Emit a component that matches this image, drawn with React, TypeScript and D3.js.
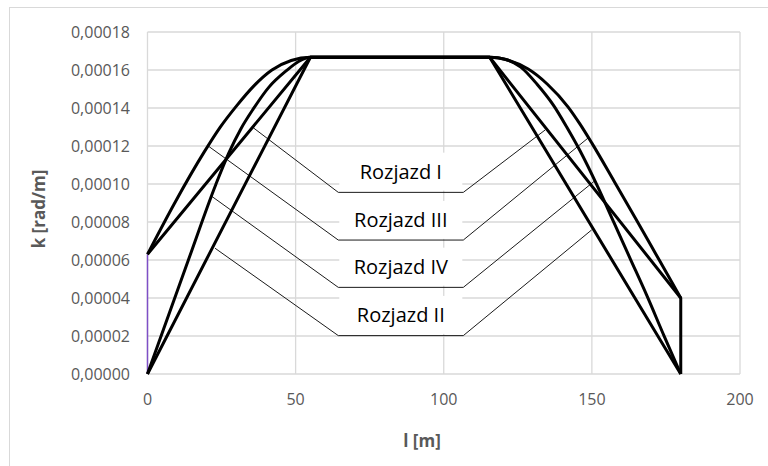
import React, { useRef, useEffect } from 'react';
import * as d3 from 'd3';

// l [m] / k [rad/m]
const xTicks = [0, 50, 100, 150, 200];
const yTicks = [0, 0.00002, 0.00004, 0.00006, 0.00008, 0.0001, 0.00012, 0.00014, 0.00016, 0.00018];

const rozjazd1: [number, number][] = [[0, 0.000063], [55, 0.0001667], [115.5, 0.0001667], [180, 0.00004], [180, 0]];
const rozjazd2: [number, number][] = [[0, 0], [55, 0.0001667], [115.5, 0.0001667], [180, 0]];
const rozjazd3: [number, number][] = [
  [0, 0.000063], [9, 0.0000895], [19, 0.0001165], [24.5, 0.0001298], [30, 0.000141], [36, 0.0001518],
  [42, 0.00016], [48.5, 0.000165], [55, 0.0001667],
  [115.5, 0.0001667], [122, 0.000165], [128.5, 0.0001605], [135, 0.0001525], [142, 0.0001405], [146, 0.0001315],
  [150, 0.0001215], [157.5, 0.0001015], [165, 0.0000812], [172.5, 0.0000606], [180, 0.00004],
];
const rozjazd4: [number, number][] = [
  [0, 0], [13.8, 0.00006], [23, 0.0000995], [27.5, 0.0001165], [31.5, 0.000129], [35.7, 0.0001395], [41, 0.000151],
  [47, 0.0001598], [51, 0.0001645], [55, 0.0001667],
  [115.5, 0.0001667], [121, 0.0001655], [126, 0.0001615], [131.5, 0.0001525], [137, 0.0001415], [141.5, 0.00013],
  [146, 0.0001175], [152, 0.0000985], [157.5, 0.0000795], [163, 0.0000605], [168.5, 0.0000415], [174.25, 0.0000205], [180, 0],
];
const startLine: [number, number][] = [[0, 0], [0, 0.000063]];

const labelNames = ['Rozjazd I', 'Rozjazd III', 'Rozjazd IV', 'Rozjazd II'];
const labelK = [0.0001065, 0.0000811, 0.0000565, 0.0000311];
const elbowK = [0.0000956, 0.0000705, 0.0000456, 0.0000202];
const elbowX = [64.4, 106.6];
const anchorLeft: [number, number][] = [[35.7, 0.0001296], [20.5, 0.000120], [21.7, 0.0000935], [22.8, 0.0000662]];
const anchorRight: [number, number][] = [[134.2, 0.0001284], [148.8, 0.0001243], [151, 0.0001017], [149.9, 0.0000758]];

const App = () => {
  const svgRef = useRef<SVGSVGElement>(null);

  useEffect(() => {
    const svg = d3.select(svgRef.current);
    svg.selectAll('*').remove();
    const font = '"Open Sans", "Noto Sans", sans-serif';

    const x = d3.scaleLinear().domain([0, 200]).range([147.5, 740]);
    const y = d3.scaleLinear().domain([0, 0.00018]).range([374, 32]);

    svg.append('rect')
      .attr('x', 9.5).attr('y', 7.5).attr('width', 900).attr('height', 600)
      .attr('fill', 'white').attr('stroke', '#d9d9d9');

    // grid
    svg.append('g').selectAll('line').data(yTicks).enter().append('line')
      .attr('x1', x(0)).attr('x2', x(200))
      .attr('y1', d => y(d)).attr('y2', d => y(d))
      .attr('stroke', '#d9d9d9').attr('stroke-width', 1.3);
    svg.append('g').selectAll('line').data(xTicks).enter().append('line')
      .attr('y1', y(0)).attr('y2', y(0.00018))
      .attr('x1', d => x(d)).attr('x2', d => x(d))
      .attr('stroke', '#d9d9d9').attr('stroke-width', 1.3);

    // tick labels
    const fmt = (v: number) => d3.format('.5f')(v).replace('.', ',');
    svg.append('g').selectAll('text').data(yTicks).enter().append('text')
      .attr('x', 130).attr('y', d => y(d)).attr('dy', '0.35em')
      .attr('text-anchor', 'end')
      .style('font-family', font).style('font-size', '16px').style('fill', '#595959')
      .text(d => fmt(d));
    svg.append('g').selectAll('text').data(xTicks).enter().append('text')
      .attr('x', d => x(d)).attr('y', 405)
      .attr('text-anchor', 'middle')
      .style('font-family', font).style('font-size', '16px').style('fill', '#595959')
      .text(d => d);

    // axis titles
    svg.append('text')
      .attr('transform', 'translate(45,209) rotate(-90)')
      .attr('text-anchor', 'middle')
      .style('font-family', font).style('font-size', '17px').style('font-weight', 'bold').style('fill', '#595959')
      .text('k [rad/m]');
    svg.append('text')
      .attr('x', 422).attr('y', 447)
      .attr('text-anchor', 'middle')
      .style('font-family', font).style('font-size', '17px').style('font-weight', 'bold').style('fill', '#595959')
      .text('l [m]');

    // labels with leaders
    labelNames.forEach((name, i) => {
      svg.append('rect')
        .attr('x', x(elbowX[0]) + 1).attr('y', y(labelK[i]) - 19)
        .attr('width', x(elbowX[1]) - x(elbowX[0]) - 2).attr('height', 38)
        .attr('fill', 'white');
      const pts: [number, number][] = [anchorLeft[i], [elbowX[0], elbowK[i]], [elbowX[1], elbowK[i]], anchorRight[i]];
      svg.append('path')
        .attr('d', d3.line().x(d => x(d[0])).y(d => y(d[1]))(pts))
        .attr('fill', 'none').attr('stroke', '#1a1a1a').attr('stroke-width', 1);
      svg.append('text')
        .attr('x', x(85.5)).attr('y', y(labelK[i])).attr('dy', '0.35em')
        .attr('text-anchor', 'middle')
        .style('font-family', font).style('font-size', '20px').style('fill', '#000')
        .text(name);
    });

    // series
    const linear = d3.line<[number, number]>().x(d => x(d[0])).y(d => y(d[1]));
    const smooth = d3.line<[number, number]>().x(d => x(d[0])).y(d => y(d[1])).curve(d3.curveMonotoneX);

    svg.append('path').attr('d', linear(startLine))
      .attr('fill', 'none').attr('stroke', '#7e4fc6').attr('stroke-width', 1.5);

    [rozjazd1, rozjazd2].forEach(s => {
      svg.append('path').attr('d', linear(s))
        .attr('fill', 'none').attr('stroke', '#000').attr('stroke-width', 3)
        .attr('stroke-linejoin', 'round');
    });
    [rozjazd3, rozjazd4].forEach(s => {
      svg.append('path').attr('d', smooth(s))
        .attr('fill', 'none').attr('stroke', '#000').attr('stroke-width', 3)
        .attr('stroke-linejoin', 'round');
    });
  }, []);

  return (
    <svg
      ref={svgRef}
      width={768}
      height={466}
      style={{ position: 'absolute', left: 0, top: 0, background: 'white' }}
    ></svg>
  );
};

export default App;
